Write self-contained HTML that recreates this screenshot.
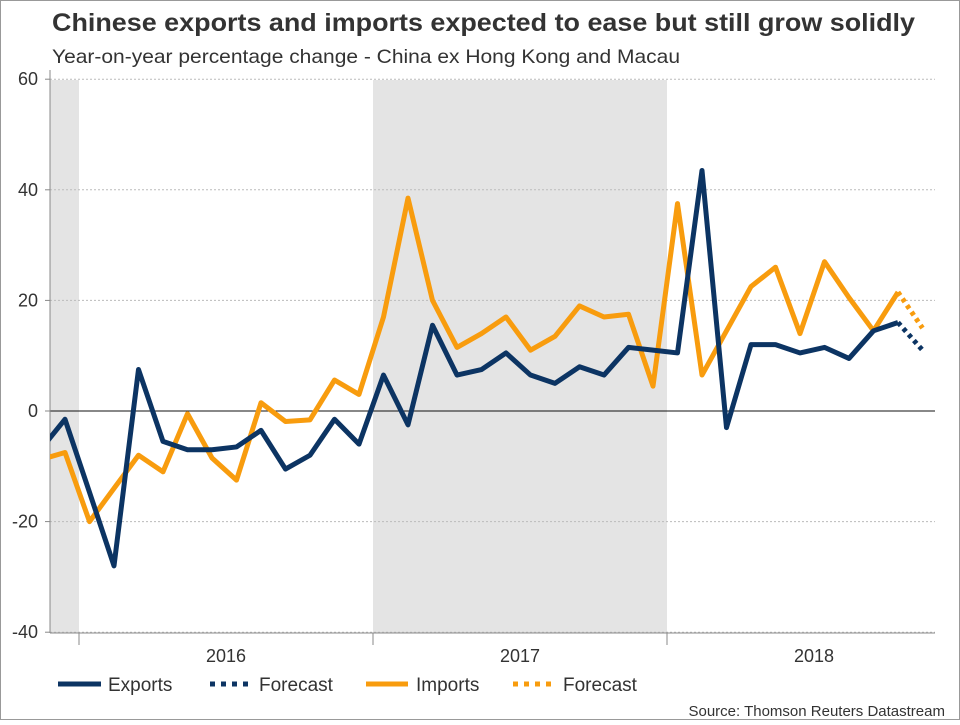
<!DOCTYPE html>
<html><head><meta charset="utf-8"><style>
body{margin:0;background:#fff;font-family:"Liberation Sans",sans-serif;}
svg text{font-family:"Liberation Sans",sans-serif;}
</style></head><body>
<svg width="960" height="720">
<rect x="0.5" y="0.5" width="959" height="719" fill="none" stroke="#999"/>
<text x="52" y="31" font-size="25" font-weight="bold" fill="#333" textLength="863" lengthAdjust="spacingAndGlyphs">Chinese exports and imports expected to ease but still grow solidly</text>
<text x="52" y="63" font-size="19.5" fill="#333" textLength="628" lengthAdjust="spacingAndGlyphs">Year-on-year percentage change - China ex Hong Kong and Macau</text>
<defs><clipPath id="pc"><rect x="50" y="70" width="885" height="563"/></clipPath></defs>
<g id="shade"></g><g id="grid"></g><g id="yt"></g><g id="xt"></g>
<g id="lines" clip-path="url(#pc)"></g>
<g>
<line x1="58" y1="684" x2="101" y2="684" stroke="#0c3463" stroke-width="5"/>
<text x="108" y="691" font-size="19" fill="#333">Exports</text>
<line x1="210" y1="684" x2="251" y2="684" stroke="#0c3463" stroke-width="5" stroke-dasharray="5,6"/>
<text x="259" y="691" font-size="19" fill="#333">Forecast</text>
<line x1="366" y1="684" x2="408" y2="684" stroke="#f89c0e" stroke-width="5"/>
<text x="416" y="691" font-size="19" fill="#333">Imports</text>
<line x1="513" y1="684" x2="556" y2="684" stroke="#f89c0e" stroke-width="5" stroke-dasharray="5,6"/>
<text x="563" y="691" font-size="19" fill="#333">Forecast</text>
</g>
<text x="945" y="716" font-size="15" fill="#333" text-anchor="end">Source: Thomson Reuters Datastream</text>
</svg>
<script>
const exportsVals=[-7,-1.5,-14.7,-28,7.5,-5.5,-7,-7,-6.5,-3.5,-10.5,-8,-1.5,-6,6.5,-2.5,15.5,6.5,7.5,10.5,6.5,5,8,6.5,11.5,11,10.5,43.5,-3,12,12,10.5,11.5,9.5,14.5,16];
const exportsForecast=[16,11];
const importsVals=[-8.8,-7.5,-20,-14,-8,-11,-0.5,-8.5,-12.5,1.5,-1.9,-1.6,5.6,3,17,38.5,20,11.5,14,17,11,13.5,19,17,17.5,4.5,37.5,6.5,14.5,22.5,26,14,27,20.5,14.5,21.5];
const importsForecast=[21.5,15];
const yTicks=[-40,-20,0,20,40,60];
const years=["2016","2017","2018"];
const NS="http://www.w3.org/2000/svg";
const y=v=>411-v*5.53;
const x=i=>40.5+i*24.5; // index 0 = Nov 2015
const mk=(t,a,p)=>{const e=document.createElementNS(NS,t);for(const k in a)e.setAttribute(k,a[k]);document.getElementById(p).appendChild(e);return e;};
let s=mk('rect',{x:50,y:80,width:29,height:553,fill:"#e4e4e4"},'shade');


s=mk('rect',{x:373,y:80,width:294,height:553,fill:"#e4e4e4"},'shade');


yTicks.forEach(v=>{
 const g=mk('line',{x1:50,x2:935,y1:y(v),y2:y(v),stroke:v===0?"#111":"#bbb","stroke-width":1,"stroke-dasharray":v===0?"":"2,2"},'grid');
 
 
 const tm=mk('line',{x1:45,x2:50,y1:y(v),y2:y(v),stroke:"#888"},'grid');
 
 
 const t=mk('text',{x:38,y:y(v)+6,"font-size":18,fill:"#333","text-anchor":"end"},'yt');t.textContent=v;
 
 
});
let ax=mk('line',{x1:50,x2:50,y1:70,y2:633,stroke:"#888"},'grid');


ax=mk('line',{x1:50,x2:935,y1:633,y2:633,stroke:"#888"},'grid');


years.forEach((yr,i)=>{
 const x0=79+i*294;
 const tk=mk('line',{x1:x0,x2:x0,y1:633,y2:645,stroke:"#888"},'xt');
 
 
 const t=mk('text',{x:x0+147,y:662,"font-size":18,fill:"#333","text-anchor":"middle"},'xt');t.textContent=yr;
 
 
});
const line=(vals,off,col,dash,name)=>{
 const p=mk('polyline',{points:vals.map((v,i)=>x(i+off)+","+y(v)).join(" "),fill:"none",stroke:col,"stroke-width":5,"stroke-linejoin":"round","stroke-dasharray":dash},'lines');
 
 
};
line(importsVals,0,"#f89c0e","","imports-line");
line(importsForecast,35,"#f89c0e","4,4","imports-forecast-line");
line(exportsVals,0,"#0c3463","","exports-line");
line(exportsForecast,35,"#0c3463","4,4","exports-forecast-line");
</script>
</body></html>
